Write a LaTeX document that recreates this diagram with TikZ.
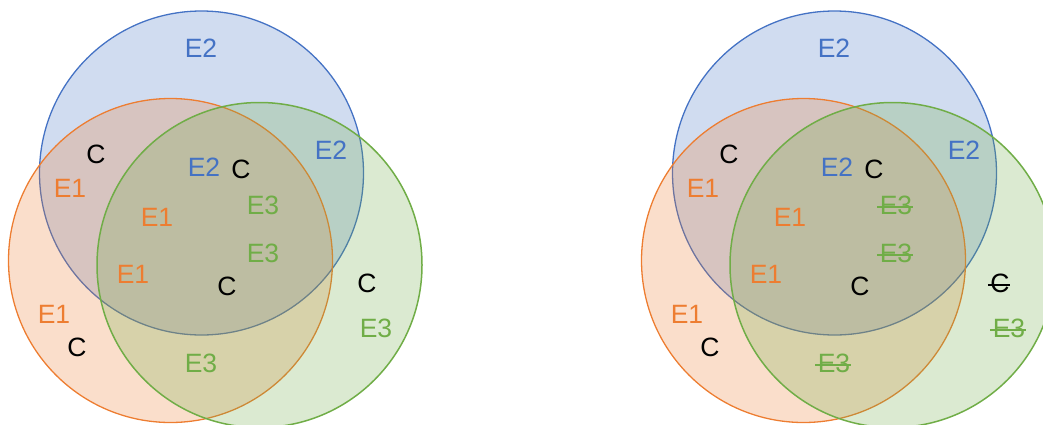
\documentclass[tikz,border=0pt]{standalone}
\usepackage{fontspec}
\setmainfont{Liberation Sans}
\definecolor{cblue}{HTML}{4472C4}
\definecolor{corange}{HTML}{ED7D31}
\definecolor{cgreen}{HTML}{70AD47}
\newcommand{\strk}[1]{\setbox0=\hbox{#1}\rlap{\kern-0.1em\rule[0.25em]{\dimexpr\wd0+0.12em\relax}{0.055em}}\box0}
\tikzset{
  lab/.style={inner sep=0pt, font=\fontsize{26.5}{30}\selectfont},
  tb/.style={lab, text=cblue},
  to/.style={lab, text=corange},
  tg/.style={lab, text=cgreen},
  tc/.style={lab, text=black},
  setb/.style={draw=cblue, fill=cblue, fill opacity=0.25, line width=1.3pt},
  seto/.style={draw=corange, fill=corange, fill opacity=0.25, line width=1.3pt},
  setg/.style={draw=cgreen, fill=cgreen, fill opacity=0.25, line width=1.5pt},
}
\begin{document}
\begin{tikzpicture}[x=1pt,y=-1pt]
\useasboundingbox (0,0) rectangle (1043,424);
\clip (0,0) rectangle (1043,424);
% left diagram
\begin{scope}
\draw[setb] (201.5,173) circle[radius=162];
\draw[seto] (170.5,260.5) circle[radius=162];
\draw[setg] (259.5,265) circle[radius=162.5];
\node[tb] (la1) at (201,48) {E2};
\node[tc] (la2) at (96,154) {C};
\node[to] (la3) at (70,188) {E1};
\node[tb] (la4) at (204,167) {E2};
\node[tc] (la5) at (241,169) {C};
\node[tb] (la6) at (331,150) {E2};
\node[to] (la7) at (157,217) {E1};
\node[tg] (la8) at (263,205) {E3};
\node[tg] (la9) at (263,253) {E3};
\node[to] (la10) at (133,274) {E1};
\node[tc] (la11) at (227,286) {C};
\node[tc] (la12) at (367,283) {C};
\node[tg] (la13) at (376,328) {E3};
\node[to] (la14) at (54,314) {E1};
\node[tc] (la15) at (77,347) {C};
\node[tg] (la16) at (201,363) {E3};
\end{scope}
% right diagram
\begin{scope}[xshift=633pt]
\draw[setb] (201.5,173) circle[radius=162];
\draw[seto] (170.5,260.5) circle[radius=162];
\draw[setg] (259.5,265) circle[radius=162.5];
\node[tb] (ra1) at (201,48) {E2};
\node[tc] (ra2) at (96,154) {C};
\node[to] (ra3) at (70,188) {E1};
\node[tb] (ra4) at (204,167) {E2};
\node[tc] (ra5) at (241,169) {C};
\node[tb] (ra6) at (331,150) {E2};
\node[to] (ra7) at (157,217) {E1};
\node[tg] (ra8) at (263,205) {\strk{E3}};
\node[tg] (ra9) at (263,253) {\strk{E3}};
\node[to] (ra10) at (133,274) {E1};
\node[tc] (ra11) at (227,286) {C};
\node[tc] (ra12) at (367,283) {\strk{C}};
\node[tg] (ra13) at (376,328) {\strk{E3}};
\node[to] (ra14) at (54,314) {E1};
\node[tc] (ra15) at (77,347) {C};
\node[tg] (ra16) at (201,363) {\strk{E3}};
\end{scope}
\end{tikzpicture}
\end{document}
